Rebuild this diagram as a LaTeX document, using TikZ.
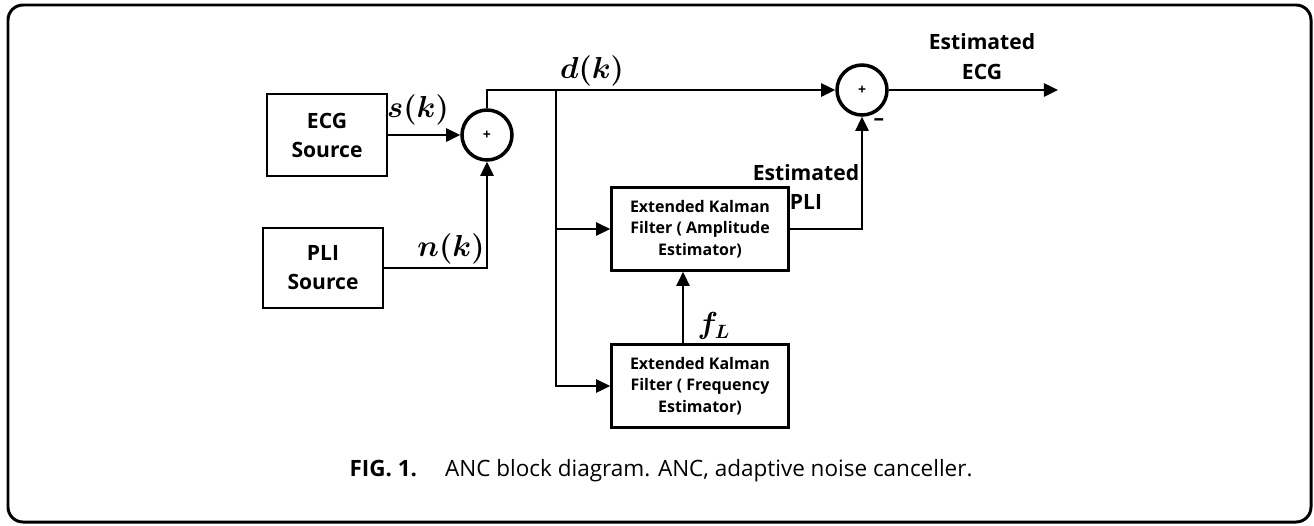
\documentclass[tikz,border=0pt]{standalone}
\usepackage{amsmath,amssymb}
\usepackage{fontspec}
\setmainfont{Open Sans}
\usetikzlibrary{arrows.meta}
\tikzset{
  blk/.style={draw, line width=1.5pt, fill=white, align=center, inner sep=2pt,
    font=\bfseries\fontsize{12}{16.5}\selectfont},
  ekf/.style={blk, minimum width=3.54cm, minimum height=1.66cm,
    font=\bfseries\fontsize{9.1}{12.2}\selectfont},
  sum/.style={draw, circle, line width=2pt, minimum size=1cm, inner sep=0pt,
    font=\bfseries\fontsize{8}{8}\selectfont},
  sig/.style={line width=1.2pt, -{Triangle[length=8pt,width=7.5pt]}},
  wire/.style={line width=1.2pt},
  lab/.style={inner sep=0pt, font=\fontsize{16}{18}\selectfont\boldmath},
  txt/.style={inner sep=0pt, align=center, font=\bfseries\fontsize{12}{17}\selectfont}
}
\begin{document}
\begin{tikzpicture}[x=0.02cm,y=-0.02cm]
  \useasboundingbox (0,0) rectangle (1314,525);
  \draw[line width=1.7pt, rounded corners=0.3cm] (8,5) rectangle (1311,522);
  % ------------------------------------------------------------ sources and first sum
  \node[blk, minimum width=2.4cm, minimum height=1.64cm] (ecg) at (327,135) {ECG\\Source};
  \node[blk, minimum width=2.4cm, minimum height=1.6cm] (pli) at (323,268) {PLI\\Source};
  \node[sum] (sum1) at (487,135) {+};
  \draw[sig] (ecg) -- (sum1);
  \draw[sig] (pli.east) -| (sum1.south);
  \node[lab] (sk) at (418,110) {$s(k)$};
  \node[lab] (nk) at (451,249) {$n(k)$};
  % ------------------------------------------------------------ Kalman filters
  \node[sum] (sum2) at (862,90) {+};
  \node[ekf] (amp) at (700,229) {Extended Kalman\\Filter ( Amplitude\\Estimator)};
  \node[ekf] (frq) at (700,386) {Extended Kalman\\Filter ( Frequency\\Estimator)};
  \coordinate (br) at (556,90);
  \coordinate (fl) at (683,344);
  \draw[sig] (sum1.north) |- (sum2.west);
  \draw[sig] (br) |- (amp.west);
  \draw[sig] (br) |- (frq.west);
  \draw[sig] (fl) -- (fl |- amp.south);
  \draw[sig] (amp.east) -| (sum2.south);
  \node[lab] (dk) at (592,71) {$d(k)$};
  \node[lab] (fL) at (714,326) {$f_L$};
  \node[txt] (epli) at (806,187) {Estimated\\PLI};
  \node[inner sep=0pt, font=\bfseries\large] (neg) at (879,122) {--};
  % ------------------------------------------------------------ output
  \coordinate (out) at (1058,90);
  \draw[sig] (sum2.east) -- (out);
  \node[txt] (eecg) at (982,57) {Estimated\\ECG};
  \node[inner sep=0pt, font=\fontsize{12.8}{15}\selectfont] (cap) at (661,471)
    {\textbf{FIG. 1.}\hspace{16pt}ANC block diagram. ANC, adaptive noise canceller.};
\end{tikzpicture}
\end{document}
